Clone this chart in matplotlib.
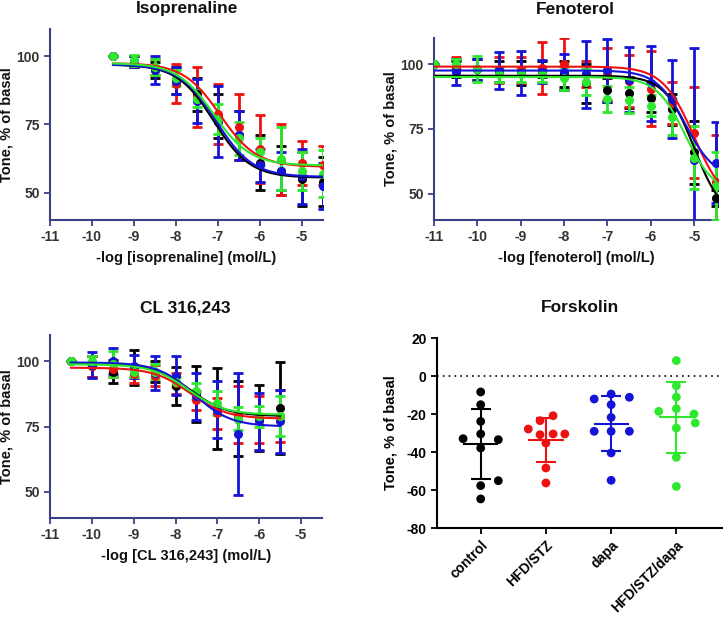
import numpy as np
import matplotlib
matplotlib.use("Agg")
import matplotlib.pyplot as plt

plt.rcParams['font.family'] = ['Liberation Sans', 'DejaVu Sans']
plt.rcParams['font.weight'] = 'bold'
plt.rcParams['axes.unicode_minus'] = False

# ---------------- data ----------------
group_names = ["control", "HFD/STZ", "dapa", "HFD/STZ/dapa"]
group_colors = ["#000000", "#ee1111", "#1414d8", "#2ee82e"]

# Isoprenaline
iso_x = [-9.5, -9, -8.5, -8, -7.5, -7, -6.5, -6, -5.5, -5, -4.5]
iso_black = [100, 98, 95, 91, 86, 78, 71, 61, 58, 55, 54]
iso_black_sd = [0, 2, 3, 5, 6, 8, 9, 10, 9, 10, 9]
iso_red = [100, 98, 96, 90, 85, 79, 74, 66, 62, 61, 60]
iso_red_sd = [0, 2, 3, 7, 11, 11, 12, 12.5, 13, 8, 7]
iso_blue = [100, 98, 95, 91, 83.5, 76, 71, 60, 58, 56, 52.5]
iso_blue_sd = [0, 2, 5, 5, 8, 13, 9, 6, 7, 10, 8.5]
iso_green = [100, 98.5, 96, 92, 84.5, 77, 70, 65, 62.5, 58, 57]
iso_green_sd = [0, 2, 3, 3, 3, 5.5, 6, 5, 11.5, 7, 8.5]
# fitted 4PL parameters: top, bottom, logEC50, hill
iso_fit = [[97, 55.5, -7.1, 1.0], [97.5, 59.5, -6.95, 1.0],
           [97, 55.8, -7.05, 1.0], [97.5, 60, -7.1, 1.0]]

# Fenoterol
fen_x = [-11, -10.5, -10, -9.5, -9, -8.5, -8, -7.5, -7, -6.5, -6, -5.5, -5, -4.5]
fen_black = [100, 98, 98, 97, 96.5, 98, 96, 92.5, 90, 89, 87, 82.5, 66, 48.5]
fen_black_sd = [0, 3, 4, 4, 4.5, 3, 5, 7.5, 4.5, 6, 5.5, 6, 12, 3]
fen_red = [100, 99, 98, 97.5, 97.5, 98.5, 100, 96, 96, 93.5, 90.5, 85, 73.5, 54.5]
fen_red_sd = [0, 3.5, 4, 5, 5, 10, 10, 5, 10, 10, 14.5, 8, 17.5, 18]
fen_blue = [100, 97, 98, 97.5, 96.5, 97, 97, 96, 97.5, 94, 92.5, 86.5, 63, 62]
fen_blue_sd = [0, 5, 4, 7, 8.5, 4.5, 7, 13, 12, 12.5, 14.5, 15, 43, 15.5]
fen_green = [100, 100, 98, 96, 96, 96, 94.5, 93, 86.5, 86, 84, 79.5, 64, 53]
fen_green_sd = [0, 2, 5, 3, 3, 3, 4.5, 5, 5, 5, 4, 7, 12, 13]
fen_fit = [[95.5, 40, -5.0, 1.3], [99, 45, -5.0, 1.2],
           [97.5, 56, -5.2, 1.3], [95, 50, -5.2, 1.3]]

# CL 316,243
cl_x = [-10.5, -10, -9.5, -9, -8.5, -8, -7.5, -7, -6.5, -6, -5.5]
cl_black = [100, 98, 96, 97.7, 96, 90.5, 87.5, 82, 78, 78.3, 82]
cl_black_sd = [0, 4, 4.5, 6.7, 4, 7.3, 10.7, 15.5, 14.3, 12.7, 17.5]
cl_red = [100, 98, 97, 95, 94.5, 91.5, 85, 80, 79.5, 77.5, 79]
cl_red_sd = [0, 4, 3, 3.5, 4, 4, 3.5, 6, 11, 9, 10]
cl_blue = [100, 98.5, 100, 98, 95.5, 94.5, 86.5, 81.5, 72, 77, 77]
cl_blue_sd = [0, 5, 5, 4.5, 6.5, 7.5, 9, 11, 23.3, 11, 12]
cl_green = [100, 100, 99, 96, 96, 92, 88.5, 84, 78, 79, 79]
cl_green_sd = [0, 2, 5, 2, 3, 2, 3, 4.5, 4.5, 4, 7.5]
cl_fit = [[99, 79, -7.65, 1.0], [97.5, 78, -7.65, 1.0],
          [99.5, 75, -7.55, 1.0], [98.8, 79.5, -7.7, 1.0]]

# Forskolin (individual values and horizontal jitter)
fsk_control = [-8.4, -15.1, -23.9, -30.5, -33.0, -33.5, -37.9, -55.1, -57.7, -64.7]
fsk_control_jit = [0, 0, 0, 0, -0.27, 0.27, 0, 0.27, 0, 0]
fsk_hfd = [-20.9, -23.5, -27.9, -30.9, -30.5, -30.5, -35.3, -48.4, -56.3]
fsk_hfd_jit = [0.11, -0.09, -0.27, -0.09, 0.11, 0.29, 0, 0, 0]
fsk_dapa = [-9.5, -12.1, -11.2, -15.1, -21.8, -29.1, -29.1, -29.1, -40.5, -54.9]
fsk_dapa_jit = [0, -0.26, 0.28, 0, 0, -0.26, 0, 0.28, 0, 0]
fsk_hfd_dapa = [8.1, -5.1, -11.1, -18.6, -17.2, -20.0, -24.7, -27.4, -42.8, -58.1]
fsk_hfd_dapa_jit = [0, 0, 0, -0.27, 0, 0.27, 0.29, 0, 0, 0]

# ---------------- drawing ----------------
W, H = 723, 619
fig = plt.figure(figsize=(W / 100, H / 100), dpi=100)

def ax_px(l, t, r, b):
    return fig.add_axes([l / W, (H - b) / H, (r - l) / W, (b - t) / H])

def title_px(x, y, s):
    fig.text(x / W, 1 - y / H, s, ha='center', va='center', fontsize=12.5,
             fontweight='bold', color='#111111')

spine_col = "#3b3f86"
tick_col = "#333333"

def four_pl(x, top, bottom, c, h):
    return bottom + (top - bottom) / (1 + 10 ** (h * (x - c)))

def curve_panel(ax, xlabel, x, means, sds, fits, xlim, ylab_x):
    for m, s, f, col in zip(means, sds, fits, group_colors):
        ax.errorbar(x, m, yerr=s, fmt='o', color=col, ms=5.5, elinewidth=2,
                    capsize=3.5, capthick=2, zorder=3)
        xx = np.linspace(min(x), max(x), 200)
        ax.plot(xx, four_pl(xx, *f), color=col, lw=1.5, zorder=4)
    ax.set_xlim(*xlim)
    ax.set_ylim(40, 110)
    ax.set_yticks([50, 75, 100])
    ax.set_xticks(range(-11, -4))
    for sp in ['top', 'right']:
        ax.spines[sp].set_visible(False)
    for sp in ['left', 'bottom']:
        ax.spines[sp].set_color(spine_col)
        ax.spines[sp].set_linewidth(1.5)
    ax.tick_params(colors=spine_col, labelcolor=tick_col, labelsize=10,
                   width=1.3, length=4)
    for lab in ax.get_xticklabels() + ax.get_yticklabels():
        lab.set_fontweight('bold')
    ax.set_xlabel(xlabel, fontsize=10.5, fontweight='bold', color='#111111', labelpad=5)
    ax.set_ylabel("Tone, % of basal", fontsize=10.5, fontweight='bold', color='#111111')
    ax.yaxis.set_label_coords(ylab_x, 0.5)

ax1 = ax_px(50, 29, 323, 220)
curve_panel(ax1, "-log [isoprenaline] (mol/L)", iso_x,
            [iso_black, iso_red, iso_blue, iso_green],
            [iso_black_sd, iso_red_sd, iso_blue_sd, iso_green_sd], iso_fit,
            (-11, -4.5), -0.135)
title_px(187, 8, "Isoprenaline")

ax2 = ax_px(434, 38, 718, 220)
curve_panel(ax2, "-log [fenoterol] (mol/L)", fen_x,
            [fen_black, fen_red, fen_blue, fen_green],
            [fen_black_sd, fen_red_sd, fen_blue_sd, fen_green_sd], fen_fit,
            (-11, -4.45), -0.130)
title_px(575, 10, "Fenoterol")

ax3 = ax_px(50, 335, 322, 518)
curve_panel(ax3, "-log [CL 316,243] (mol/L)", cl_x,
            [cl_black, cl_red, cl_blue, cl_green],
            [cl_black_sd, cl_red_sd, cl_blue_sd, cl_green_sd], cl_fit,
            (-11, -4.5), -0.136)
title_px(185, 308, "CL 316,243")

ax4 = ax_px(437, 338, 722, 528)
fsk_vals = [fsk_control, fsk_hfd, fsk_dapa, fsk_hfd_dapa]
fsk_jits = [fsk_control_jit, fsk_hfd_jit, fsk_dapa_jit, fsk_hfd_dapa_jit]
ax4.axhline(0, color='black', lw=1.2, ls=(0, (1, 2.5)), zorder=1)
for i, (v, j, col) in enumerate(zip(fsk_vals, fsk_jits, group_colors)):
    v = np.array(v)
    ax4.scatter(i + np.array(j), v, s=40, color=col, zorder=3, edgecolors='none')
    m = v.mean()
    s = v.std(ddof=1)
    ax4.errorbar([i], [m], yerr=[s], fmt='none', ecolor=col, elinewidth=1.5,
                 capsize=7.5, capthick=1.5, zorder=4)
    ax4.hlines(m, i - 0.27, i + 0.27, color=col, lw=1.5, zorder=4)
ax4.set_xlim(-0.67, 3.7)
ax4.set_ylim(-80, 20)
ax4.set_yticks(range(-80, 21, 20))
ax4.set_xticks(range(4))
ax4.set_xticklabels(group_names, rotation=45, ha='right', rotation_mode='anchor',
                    fontsize=10, fontweight='bold')
for lab in ax4.get_yticklabels():
    lab.set_fontweight('bold')
for sp in ['top', 'right']:
    ax4.spines[sp].set_visible(False)
for sp in ['left', 'bottom']:
    ax4.spines[sp].set_linewidth(1.5)
ax4.tick_params(labelsize=10, width=1.3, length=4)
ax4.set_ylabel("Tone, % of basal", fontsize=10.5, fontweight='bold')
ax4.yaxis.set_label_coords(-0.137, 0.5)
title_px(580, 307, "Forskolin")

fig.savefig("out.png", dpi=100)
